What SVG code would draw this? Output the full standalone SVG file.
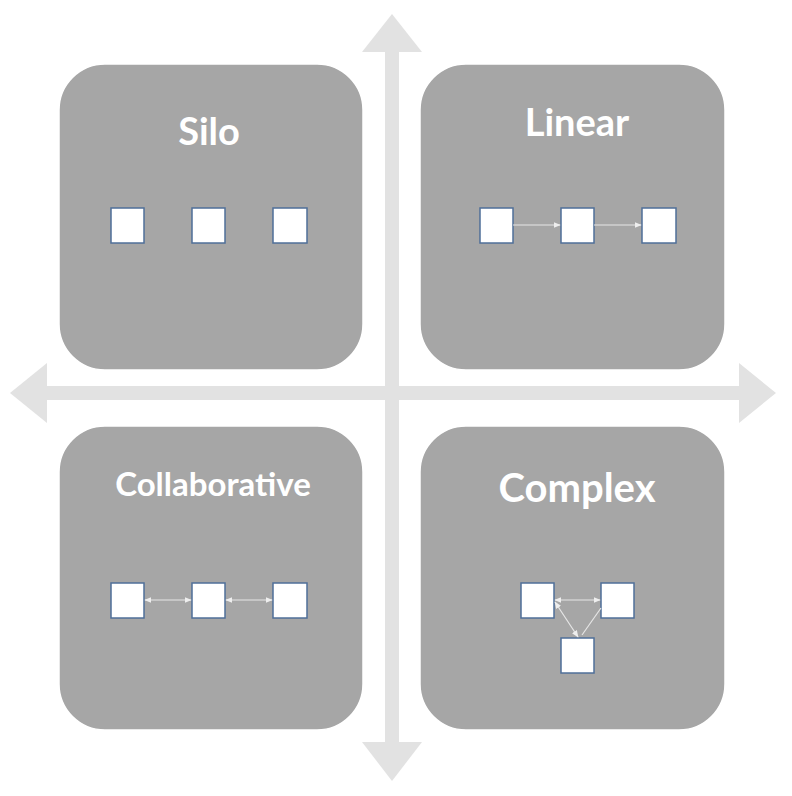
<svg xmlns="http://www.w3.org/2000/svg" width="792" height="796" viewBox="0 0 792 796">
<style>
.q{fill:#a6a6a6;stroke:#ffffff;stroke-width:1.5}
.n{fill:#ffffff;stroke:#4f6f99;stroke-width:1.5}
.t{font-family:Lato,"Open Sans",sans-serif;font-weight:bold;fill:#ffffff;text-anchor:middle}
.c{stroke:#e6e6e6;stroke-width:1.2;fill:none}
.ax{fill:#e2e2e2}
</style>
<defs>
<marker id="ah" viewBox="0 0 10 10" refX="9" refY="5" markerWidth="6" markerHeight="6" orient="auto-start-reverse"><path d="M0,1 L10,5 L0,9 z" fill="#eeeeee"/></marker>
</defs>
<g id="axes">
<rect class="ax" x="385" y="50" width="14" height="692"/>
<polygon class="ax" points="392,14 422,52 362,52"/>
<polygon class="ax" points="392,781 422,742 362,742"/>
<rect class="ax" x="45" y="386" width="695" height="14"/>
<polygon class="ax" points="10,393 47,363 47,423"/>
<polygon class="ax" points="776,393 739,363 739,423"/>
</g>
<g id="silo">
<rect class="q" x="59" y="64" width="304" height="306" rx="46"/>
<text class="t" x="209" y="145" font-size="38">Silo</text>
<rect class="n" x="111" y="208" width="33" height="35"/>
<rect class="n" x="192" y="208" width="33" height="35"/>
<rect class="n" x="273" y="208" width="34" height="35"/>
</g>
<g id="linear">
<rect class="q" x="420" y="64" width="305" height="306" rx="46"/>
<text class="t" x="577" y="136" font-size="38">Linear</text>
<rect class="n" x="480" y="208" width="33" height="35"/>
<rect class="n" x="561" y="208" width="33" height="35"/>
<rect class="n" x="642" y="208" width="34" height="35"/>
</g>
<g id="collaborative">
<rect class="q" x="59" y="426" width="304" height="304" rx="46"/>
<text class="t" x="213" y="496" font-size="33">Collaborative</text>
<rect class="n" x="111" y="583" width="33" height="35"/>
<rect class="n" x="192" y="583" width="33" height="35"/>
<rect class="n" x="273" y="583" width="34" height="35"/>
</g>
<g id="complex">
<rect class="q" x="420" y="426" width="305" height="304" rx="46"/>
<text class="t" x="577" y="502" font-size="40">Complex</text>
<rect class="n" x="521" y="583" width="33" height="35"/>
<rect class="n" x="601" y="583" width="33" height="35"/>
<rect class="n" x="561" y="638" width="33" height="35"/>
</g>
<g id="connectors">
<line class="c" x1="513" y1="225" x2="560" y2="225" marker-end="url(#ah)"/>
<line class="c" x1="594" y1="225" x2="641" y2="225" marker-end="url(#ah)"/>
<line class="c" x1="145" y1="600" x2="191" y2="600" marker-start="url(#ah)" marker-end="url(#ah)"/>
<line class="c" x1="226" y1="600" x2="272" y2="600" marker-start="url(#ah)" marker-end="url(#ah)"/>
<line class="c" x1="555" y1="600" x2="600" y2="600" marker-start="url(#ah)" marker-end="url(#ah)"/>
<line class="c" x1="555" y1="602" x2="578" y2="637" marker-start="url(#ah)" marker-end="url(#ah)"/>
<line class="c" x1="601" y1="608" x2="582" y2="635"/>
</g>
</svg>
